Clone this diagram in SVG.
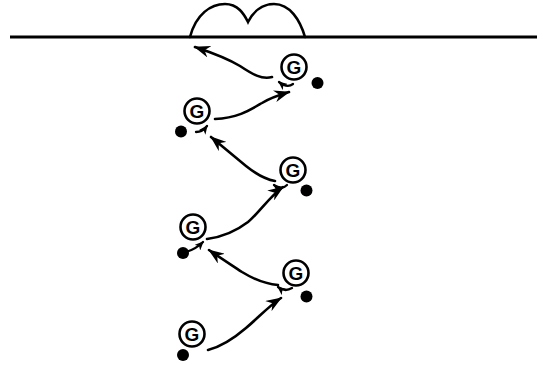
<svg xmlns="http://www.w3.org/2000/svg" width="543" height="365" viewBox="0 0 543 365">
<style>
.ln{fill:none;stroke:#000;stroke-width:2.6;stroke-linecap:round}
.ring{fill:#fff;stroke:#000;stroke-width:2.6}
.g{font-family:"Liberation Sans",Arial,sans-serif;font-weight:bold;font-size:19px;text-anchor:middle;fill:#000}
.dot{fill:#000}
.hook{fill:none;stroke:#000;stroke-width:2.3;stroke-linecap:round}
</style>
<defs>
<marker id="ah" viewBox="0 0 16 12" refX="15" refY="6" markerWidth="16" markerHeight="12" markerUnits="userSpaceOnUse" orient="auto">
<path d="M0,0 L16,6 L0,12 L5,6 z" fill="#000"/>
</marker>
<marker id="sh" viewBox="0 0 9 8" refX="8" refY="4" markerWidth="9" markerHeight="8" markerUnits="userSpaceOnUse" orient="auto">
<path d="M0,0 L9,4 L0,8 L2.5,4 z" fill="#000"/>
</marker>
</defs>
<g id="ground">
<line x1="10" y1="37" x2="537" y2="37" stroke="#000" stroke-width="2.8"/>
<path class="ln" d="M190,37 C196,14 211,4 225,4 C238,4 244,14 248,22 C253,12 262,4 274,4 C290,4 300,20 305,37"/>
</g>
<g id="connectors">
<path class="ln" marker-end="url(#ah)" d="M272,77 C262,80 252,74 240,66 C225,57 210,52 195,47"/>
<path class="ln" marker-end="url(#ah)" d="M215,119 C238,118 250,110 262,103 C270,98 279,95 289,92"/>
<path class="ln" marker-end="url(#ah)" d="M275,181 C264,179 256,174 246,166 C235,157 222,146 211,137"/>
<path class="ln" marker-end="url(#ah)" d="M207,239 C222,237 235,232 248,222 C259,213 270,196 283,187"/>
<path class="ln" marker-end="url(#ah)" d="M278,285 C266,284 255,280 242,272 C230,264 219,257 209,250"/>
<path class="ln" marker-end="url(#ah)" d="M208,350 C220,347 232,340 246,328 C258,318 270,305 281,298"/>
<path class="hook" marker-end="url(#sh)" d="M293,84 C289,87 284,86 279,82"/>
<path class="hook" marker-end="url(#sh)" d="M196,132 C200,132 204,130 207,126"/>
<path class="hook" marker-end="url(#sh)" d="M287,185 C283,189 279,189 274,185"/>
<path class="hook" marker-end="url(#sh)" d="M186,252 C193,250 198,247 203,242"/>
<path class="hook" marker-end="url(#sh)" d="M292,288 C287,291 283,291 278,287"/>
</g>
<g id="n1"><circle class="ring" cx="294" cy="67" r="12.5"/><text class="g" x="294" y="74">G</text><circle class="dot" cx="317.5" cy="83" r="6"/></g>
<g id="n2"><circle class="ring" cx="197" cy="111" r="12.5"/><text class="g" x="197" y="118">G</text><circle class="dot" cx="181" cy="131.5" r="6"/></g>
<g id="n3"><circle class="ring" cx="293" cy="170" r="12.5"/><text class="g" x="293" y="177">G</text><circle class="dot" cx="306.5" cy="190.5" r="6"/></g>
<g id="n4"><circle class="ring" cx="193" cy="227" r="12.5"/><text class="g" x="193" y="234">G</text><circle class="dot" cx="183" cy="253" r="6"/></g>
<g id="n5"><circle class="ring" cx="296" cy="273" r="12.5"/><text class="g" x="296" y="280">G</text><circle class="dot" cx="306.5" cy="296.5" r="6"/></g>
<g id="n6"><circle class="ring" cx="192" cy="334" r="12.5"/><text class="g" x="192" y="341">G</text><circle class="dot" cx="183" cy="355" r="6"/></g>
</svg>
